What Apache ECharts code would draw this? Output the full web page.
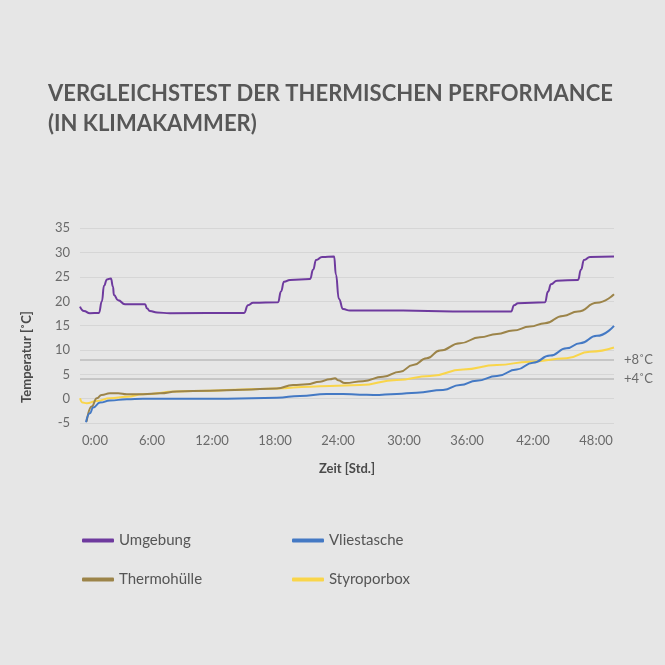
<!DOCTYPE html>
<html><head><meta charset="utf-8">
<script src="https://cdn.jsdelivr.net/npm/echarts@6/dist/echarts.min.js"></script>
<style>html,body{margin:0;padding:0;background:#e6e6e6}#c{width:665px;height:665px}</style>
</head><body><div id="c"></div>
<script>
// x = measurement index (sample number); tick labels give elapsed time at that sample
const sampleMax = 178;
const tickIndex = [5, 24, 44, 65, 86, 108, 129, 151, 172];
const tickLabels = ['0:00','6:00','12:00','18:00','24:00','30:00','36:00','42:00','48:00'];
const thresholds = [8, 4];
const thresholdLabels = ['+8˚C', '+4˚C'];

const umgebung = [[0,18.9],[1.3,18.0],[3.3,17.55],[6.3,17.6],[7.3,20],[8,23.2],[9,24.5],[10.3,24.7],[11,23],[11.3,21.3],[12.7,20.2],[15,19.4],[21.7,19.4],[22.3,18.6],[23.3,18.0],[25.7,17.7],[30,17.55],[54.7,17.6],[56,19.2],[57.7,19.7],[66,19.8],[67,22],[68,24.0],[70,24.4],[76.7,24.6],[77.7,26.5],[78.7,28.5],[80.7,29.1],[84.7,29.2],[85.3,25.5],[86.3,20.5],[87.7,18.4],[90,18.1],[107.7,18.1],[124.3,17.9],[143.7,17.9],[144.7,19.2],[146,19.6],[155,19.8],[156,22],[157,23.5],[159,24.25],[166,24.4],[167,26.5],[168,28.5],[170,29.1],[178,29.2]];
const vliestasche = [[2,-4.85],[3.3,-3.0],[4.4,-1.8],[6.7,-0.8],[10,-0.4],[15.6,-0.1],[21,0],[49,0],[65.6,0.2],[73.3,0.55],[82.2,0.97],[87.7,0.97],[93.3,0.8],[97.8,0.76],[105.6,0.97],[112.2,1.23],[121,1.8],[126.7,2.8],[132.2,3.7],[139,4.65],[145.6,6.0],[151,7.4],[156.7,8.85],[162.2,10.35],[166.7,11.4],[172.3,12.9],[178,14.95]];
const thermohuelle = [[2.2,-4.7],[3.9,-1.6],[5.6,0.1],[7.2,0.76],[10,1.1],[12.7,1.1],[15.6,0.9],[21,0.9],[26.7,1.1],[32.2,1.45],[43.3,1.65],[54.3,1.85],[65.6,2.1],[71,2.8],[75.6,2.95],[80,3.5],[83.3,4.0],[85,4.2],[86,3.8],[88.3,3.2],[94.3,3.6],[101,4.5],[106.7,5.55],[111,6.9],[115.6,8.3],[120,9.9],[126.7,11.4],[133.3,12.6],[139,13.3],[144.3,14.0],[150,14.8],[155,15.5],[161,17.0],[166,17.9],[172.3,19.7],[178,21.45]];
const styroporbox = [[0,0.1],[0.9,-0.8],[2.2,-0.95],[5.6,-0.47],[10,0.08],[15.6,0.4],[21,0.9],[32.2,1.45],[43.3,1.65],[54.3,1.9],[65.6,2.1],[76.7,2.45],[83.3,2.6],[93.3,2.8],[105.6,3.85],[116.7,4.65],[127.7,6.0],[139,6.9],[150,7.6],[162.2,8.3],[170,9.65],[178,10.5]];

const seriesNames = ['Umgebung','Vliestasche','Thermohülle','Styroporbox'];
const seriesData = [umgebung, vliestasche, thermohuelle, styroporbox];
const colors = ['#6e3a9e','#4479c4','#9c8449','#f9d54a'];
const FONT = 'Lato';

const chart = echarts.init(document.getElementById('c'));
const legendPos = [[82,533],[292,533],[82,572],[292,572]];
chart.setOption({
  backgroundColor: '#e6e6e6',
  animation: false,
  title: {
    text: 'VERGLEICHSTEST DER THERMISCHEN PERFORMANCE\n(IN KLIMAKAMMER)',
    left: 48, top: 79, padding: 0,
    textStyle: {fontFamily: FONT, fontSize: 22, fontWeight: 'bold', color: '#575757', lineHeight: 30}
  },
  grid: {left: 80, right: 51, top: 228.3, height: 194.7, containLabel: false},
  xAxis: {
    type: 'value', min: 0, max: sampleMax,
    axisLine: {show: false}, axisTick: {show: false}, splitLine: {show: false},
    axisLabel: {
      customValues: tickIndex,
      formatter: v => tickLabels[tickIndex.indexOf(v)] || '',
      margin: 11, fontFamily: FONT, fontSize: 13, color: '#6a6a6a'
    },
    name: 'Zeit [Std.]', nameLocation: 'middle', nameGap: 39,
    nameTextStyle: {fontFamily: FONT, fontSize: 13, fontWeight: 'bold', color: '#4a4a4a'}
  },
  yAxis: {
    type: 'value', min: -5, max: 35, interval: 5,
    axisLine: {show: false}, axisTick: {show: false},
    splitLine: {lineStyle: {color: '#d6d6d6', width: 1}},
    axisLabel: {margin: 10, fontFamily: FONT, fontSize: 13, color: '#6a6a6a'}
  },
  graphic: [{
    type: 'text', x: 27, y: 357, rotation: Math.PI / 2,
    style: {text: 'Temperatur [˚C]', fontFamily: FONT, fontSize: 13, fontWeight: 'bold', fill: '#4a4a4a', align: 'center', verticalAlign: 'middle'}
  }],
  legend: seriesNames.map((n, i) => ({
    data: [n], left: legendPos[i][0], top: legendPos[i][1], padding: 0,
    icon: 'roundRect', itemWidth: 32, itemHeight: 4, itemGap: 0,
    textStyle: {fontFamily: FONT, fontSize: 15, color: '#555555'},
    selectedMode: false
  })),
  series: seriesNames.map((n, i) => ({
    name: n, type: 'line', data: seriesData[i],
    smooth: 0.5, smoothMonotone: 'x', showSymbol: false, symbol: 'none',
    lineStyle: {color: colors[i], width: 2}, itemStyle: {color: colors[i]},
    z: 10 - i,
    markLine: i === 0 ? {
      silent: true, symbol: 'none',
      lineStyle: {color: '#c6c6c6', width: 2, type: 'solid'},
      label: {position: 'end', distance: 10, fontFamily: FONT, fontSize: 13, color: '#6a6a6a',
        formatter: p => thresholdLabels[thresholds.indexOf(p.value)]},
      data: thresholds.map(t => ({yAxis: t}))
    } : undefined
  }))
});
</script>
</body></html>
